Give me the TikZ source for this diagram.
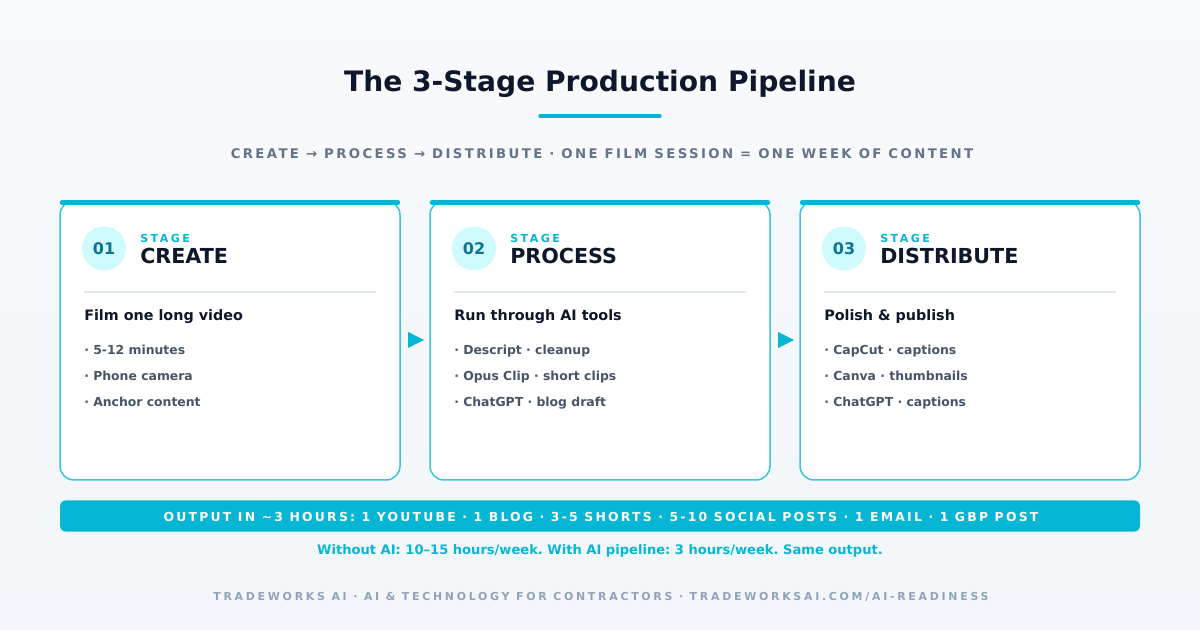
\documentclass[tikz,border=0pt]{standalone}
\usepackage{fontspec}
\setmainfont{DejaVu Sans}
\frenchspacing
\usetikzlibrary{positioning}
\definecolor{bgA}{HTML}{F8FAFC}
\definecolor{bgB}{HTML}{EFF3F8}
\definecolor{accent}{HTML}{06B6D4}
\definecolor{cardborder}{HTML}{3EC3DC}
\definecolor{navy}{HTML}{0F172A}
\definecolor{slateA}{HTML}{64748B}
\definecolor{slateB}{HTML}{475569}
\definecolor{slateC}{HTML}{94A3B8}
\definecolor{divider}{HTML}{E2E8F0}
\definecolor{circfill}{HTML}{CFFAFE}
\definecolor{circtext}{HTML}{0E7490}
\newcommand{\spaced}[2]{{\addfontfeature{LetterSpace=#1}#2}}
\tikzset{
  card/.style={draw=cardborder, line width=1.5pt*0.75, fill=white, rounded corners=10.5pt},
  topbar/.style={draw=accent, line width=3.2pt, line cap=round},
  numcirc/.style={circle, fill=circfill, minimum size=33pt, inner sep=0pt, text=circtext, font=\bfseries\fontsize{12}{14}\selectfont},
  stagelbl/.style={anchor=base west, inner sep=0pt, text=accent, font=\bfseries\fontsize{8.3}{10}\selectfont},
  stagename/.style={anchor=base west, inner sep=0pt, text=navy, font=\bfseries\fontsize{15.5}{18}\selectfont},
  cardhead/.style={anchor=base west, inner sep=0pt, text=navy, font=\bfseries\fontsize{10.75}{13}\selectfont},
  bullet/.style={anchor=base west, inner sep=0pt, text=slateB, font=\bfseries\fontsize{9.3}{12}\selectfont},
  divline/.style={draw=divider, line width=1.5pt*0.75},
  flowtri/.style={fill=accent},
}
\begin{document}
\begin{tikzpicture}[x=0.75pt, y=-0.75pt]
\shade[left color=bgA, right color=bgB, shading angle=0] (0,0) rectangle (1200,630);
\useasboundingbox (0,0) rectangle (1200,630);
\fill[bgA, opacity=0.5] (0,0) rectangle (1200,630);

\node[text=navy, font=\bfseries\fontsize{21.1}{25}\selectfont, inner sep=0pt] (title) at (600,84) {The 3-Stage Production Pipeline};
\coordinate (ulA) at (540,116);
\coordinate (ulB) at (660,116);
\draw[accent, line width=2.3pt, line cap=round] (ulA) -- (ulB);

\node[text=slateA, font=\bfseries\fontsize{9.95}{12}\selectfont, inner sep=0pt] (subtitle) at (602,154) {\spaced{18}{CREATE → PROCESS → DISTRIBUTE · ONE FILM SESSION = ONE WEEK OF CONTENT}};

% cards
\foreach \i/\x/\num/\name/\head/\ba/\bb/\bc in {
  1/60/01/CREATE/Film one long video/5-12 minutes/Phone camera/Anchor content,
  2/430/02/PROCESS/Run through AI tools/Descript · cleanup/Opus Clip · short clips/ChatGPT · blog draft,
  3/800/03/DISTRIBUTE/Polish \& publish/CapCut · captions/Canva · thumbnails/ChatGPT · captions}{
  \draw[card] (\x,201) rectangle ++(340,279);
  \coordinate (card\i) at (\x+170,340);
  \coordinate (barL\i) at (\x+2,202.5);
  \coordinate (barR\i) at (\x+338,202.5);
  \draw[topbar] (barL\i) -- (barR\i);
  \node[numcirc] (num\i) at (\x+44,248.5) {\num};
  \node[stagelbl] (stg\i) at (\x+80,243) {\spaced{22}{STAGE}};
  \node[stagename] (nm\i) at (\x+80,263.5) {\name};
  \coordinate (dA\i) at (\x+24,292);
  \coordinate (dB\i) at (\x+316,292);
  \draw[divline] (dA\i) -- (dB\i);
  \node[cardhead] (hd\i) at (\x+24,321) {\head};
  \node[bullet] (b\i a) at (\x+24,354.5) {· \ba};
  \node[bullet] (b\i b) at (\x+24,380.5) {· \bb};
  \node[bullet] (b\i c) at (\x+24,406.5) {· \bc};
}

% flow arrows
\foreach \x [count=\k] in {408,778}{
  \fill[flowtri] (\x,332) -- (\x+16,340) -- (\x,348) -- cycle;
}

% output bar
\node[fill=accent, rounded corners=4.5pt, minimum width=810pt, minimum height=23.5pt, inner sep=0pt] (bar) at (600,516) {};
\node[text=white, font=\bfseries\fontsize{9.3}{12}\selectfont, inner sep=0pt] (bartext) at (601,517) {\spaced{18}{OUTPUT IN \textasciitilde3 HOURS: 1 YOUTUBE · 1 BLOG · 3-5 SHORTS · 5-10 SOCIAL POSTS · 1 EMAIL · 1 GBP POST}};

\node[text=accent, font=\bfseries\fontsize{9.8}{12}\selectfont, inner sep=0pt] (note) at (600,550.5) {Without AI: 10–15 hours/week. With AI pipeline: 3 hours/week. Same output.};

\node[text=slateC, font=\bfseries\fontsize{8.2}{10}\selectfont, inner sep=0pt] (footer) at (601,596.5) {\spaced{25}{TRADEWORKS AI · AI \& TECHNOLOGY FOR CONTRACTORS · TRADEWORKSAI.COM/AI-READINESS}};
\end{tikzpicture}
\end{document}
